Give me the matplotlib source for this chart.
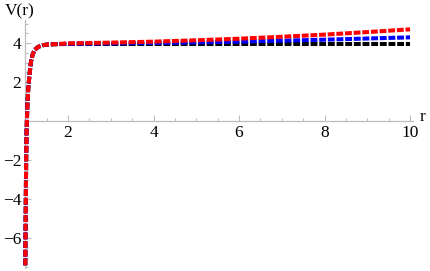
"""V(r) 三条虚线曲线 —— 仿 Mathematica 风格坐标轴。"""
import matplotlib
matplotlib.use("Agg")
import matplotlib.pyplot as plt
from matplotlib.ticker import MultipleLocator, FixedLocator

# 数据
r = [1.0, 1.01, 1.02, 1.03, 1.05, 1.07, 1.10, 1.13, 1.17, 1.22, 1.30, 1.40,
     1.50, 1.70, 2.0, 3.0, 4.0, 5.0, 6.0, 7.0, 8.0, 9.0, 10.0]
v_core = [-7.4, -4.5, -2.0, -0.5, 0.9, 1.7, 2.4, 3.0, 3.4, 3.65, 3.8, 3.88,
          3.92, 3.94]
v_black = v_core + [3.95, 3.95, 3.95, 3.95, 3.95, 3.95, 3.95, 3.95, 3.95]
v_blue = v_core + [3.96, 3.98, 4.00, 4.03, 4.07, 4.12, 4.17, 4.23, 4.29]
v_red = v_core + [3.98, 4.02, 4.07, 4.14, 4.22, 4.32, 4.43, 4.56, 4.70]

x_major = [2, 4, 6, 8, 10]
y_major = [-6, -4, -2, 2, 4]

plt.rcParams["font.family"] = ["Liberation Serif", "DejaVu Serif"]

W, H = 430, 271
fig = plt.figure(figsize=(W / 100, H / 100), dpi=100)

# 像素 -> 坐标：r=1 在 x=25.3，每单位 42.75 px；V=0 在 y=121，每单位 19.5 px
px_l, px_r = 25.3, 413.0
py_t, py_b = 20.0, 268.0
ax = fig.add_axes([px_l / W, 1 - py_b / H, (px_r - px_l) / W, (py_b - py_t) / H])
ax.set_xlim(1.0, 1.0 + (px_r - px_l) / 42.75)
ax.set_ylim((121 - py_b) / 19.5, (121 - py_t) / 19.5)

lw = 2.9
dash = (1.7, 0.45)
for vals, col in [(v_black, "black"), (v_blue, "blue"), (v_red, "red")]:
    line, = ax.plot(r, vals, color=col, lw=lw, clip_on=False,
                    solid_capstyle="butt", dash_capstyle="butt")
    line.set_dashes(dash)

axis_col = "#bdbdbd"
for s in ["top", "right"]:
    ax.spines[s].set_visible(False)
ax.spines["left"].set_position(("data", 1.0))
ax.spines["bottom"].set_position(("data", 0.0))
for s in ["left", "bottom"]:
    ax.spines[s].set_color(axis_col)
    ax.spines[s].set_linewidth(0.9)
    ax.spines[s].set_zorder(0)

ax.xaxis.set_major_locator(FixedLocator(x_major))
ax.xaxis.set_minor_locator(MultipleLocator(0.5))
ax.yaxis.set_major_locator(FixedLocator(y_major))
ax.yaxis.set_minor_locator(MultipleLocator(0.5))
ax.set_xticklabels([str(t) for t in x_major])
ax.set_yticklabels([str(t).replace("-", "\u2212") for t in y_major])
ax.tick_params(which="both", direction="in", color=axis_col, labelsize=12.5,
               labelcolor="black", width=0.8)
ax.tick_params(which="major", length=4, pad=3)
ax.tick_params(which="minor", length=2.5)

fig.text(423 / W, 1 - 117 / H, "r", fontsize=12.5, ha="center", va="center")
fig.text(20 / W, 1 - 11 / H, "V(r)", fontsize=12.5, ha="center", va="center")

fig.savefig("out.png", dpi=100)
